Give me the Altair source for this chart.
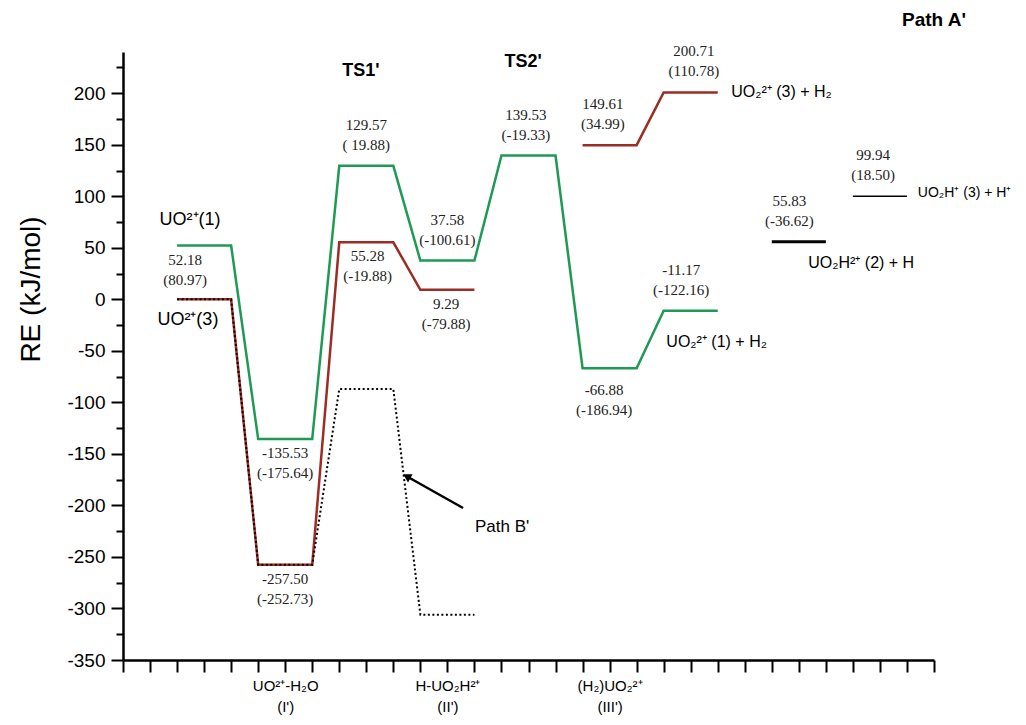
import altair as alt
import pandas as pd

# ---------------- data ----------------
LEVEL_W = 2  # width of every energy level in x-slot units

green_slot = [2, 5, 8, 11, 14, 17, 20]
green_re = [52.18, -135.53, 129.57, 37.58, 139.53, -66.88, -11.17]
green_par = ["(80.97)", "(-175.64)", "( 19.88)", "(-100.61)", "(-19.33)", "(-186.94)", "(-122.16)"]
green_side = ["below", "below", "above", "above", "above", "below2", "above"]
green_shift = [-0.7, 0, 0, 0, -0.1, -0.2, -0.35]

red1_slot = [2, 5, 8, 11]
red1_re = [0.0, -257.50, 55.28, 9.29]
red1_par = [None, "(-252.73)", "(-19.88)", "(-79.88)"]
red1_side = [None, "below", "below", "below"]
red1_shift = [0, 0, 0.05, -0.05]

red2_slot = [17, 20]
red2_re = [149.61, 200.71]
red2_par = ["(34.99)", "(110.78)"]
red2_side = ["above", "above"]
red2_shift = [-0.25, 0.12]

pathb_slot = [2, 5, 8, 11]
pathb_re = [0.0, -257.50, -87.0, -306.0]

black_slot = [24, 27]
black_re = [55.83, 99.94]
black_par = ["(-36.62)", "(18.50)"]
black_side = ["above", "above"]
black_shift = [-0.35, -0.25]

species_text = ["UO²⁺(1)", "UO²⁺(3)", "UO₂²⁺ (3) + H₂", "UO₂²⁺ (1) + H₂",
                "UO₂H²⁺ (2) + H", "UO₂H⁺ (3) + H⁺"]
species_x = [2.48, 2.4, 22.5, 20.1, 25.35, 29.4]
species_y = [77, -20, 201, -41, 35, 103]
species_align = ["center", "center", "left", "left", "left", "last"]

ts_text = ["TS1'", "TS2'"]
ts_x = [8.8, 14.8]
ts_y = [222, 230]
patha_text = "Path A'"
patha_x = 30.0
patha_y = 271

pathb_label = "Path B'"
pathb_label_x = 13.02
pathb_label_y = -221
arrow_x = [12.58, 10.54]
arrow_y = [-202.5, -172.4]

xlab_pos = [6, 12, 18]
xlab_top = ["UO²⁺-H₂O", "H-UO₂H²⁺", "(H₂)UO₂²⁺"]
xlab_bot = ["(I')", "(II')", "(III')"]

y_major = list(range(-350, 201, 50))
y_minor = list(range(-325, 226, 50))

# ---------------- build tables ----------------
def path_rows(slots, vals):
    rows = []
    for i, (s, v) in enumerate(zip(slots, vals)):
        rows.append({"x": s, "y": v, "o": 2 * i})
        rows.append({"x": s + LEVEL_W, "y": v, "o": 2 * i + 1})
    return pd.DataFrame(rows)

def label_rows(slots, vals, pars, sides, shifts):
    rows = []
    for s, v, p, sd, sh in zip(slots, vals, pars, sides, shifts):
        if p is None:
            continue
        rows.append({"x": s + LEVEL_W / 2 + sh, "y": v, "t": [f"{v:.2f}", p], "side": sd})
    return rows

green_df = path_rows(green_slot, green_re)
red1_df = path_rows(red1_slot, red1_re)
red2_df = path_rows(red2_slot, red2_re)
pathb_df = path_rows(pathb_slot, pathb_re)
black_df = pd.DataFrame({"x": black_slot, "x2": [s + LEVEL_W for s in black_slot], "y": black_re})

labels_df = pd.DataFrame(
    label_rows(green_slot, green_re, green_par, green_side, green_shift)
    + label_rows(red1_slot, red1_re, red1_par, red1_side, red1_shift)
    + label_rows(red2_slot, red2_re, red2_par, red2_side, red2_shift)
    + label_rows(black_slot, black_re, black_par, black_side, black_shift)
)
species_df = pd.DataFrame({"x": species_x, "y": species_y, "t": species_text, "a": species_align})
ts_df = pd.DataFrame({"x": ts_x, "y": ts_y, "t": ts_text})
patha_df = pd.DataFrame({"x": [patha_x], "y": [patha_y], "t": [patha_text]})
pathb_lab_df = pd.DataFrame({"x": [pathb_label_x], "y": [pathb_label_y], "t": [pathb_label]})
arrow_df = pd.DataFrame({"x": arrow_x, "y": arrow_y, "o": [0, 1]})
arrow_head_df = arrow_df.iloc[[1]]

# ---------------- scales & axes ----------------
def js(s):
    return '"' + s.replace('"', '\\"') + '"'

label_expr = ""
for p, a, b in zip(xlab_pos, xlab_top, xlab_bot):
    label_expr += f"datum.value == {p} ? [{js(a)}, {js(b)}] : "
label_expr += "''"

FONT = "Liberation Sans"
SERIF = "Liberation Serif"

xscale = alt.Scale(domain=[0, 30], nice=False, zero=False)
yscale = alt.Scale(domain=[-350, 240], nice=False, zero=False)

x_axis = alt.Axis(values=list(range(0, 31)), tickSize=12, tickWidth=2, tickColor="black",
                  domainWidth=2.5, domainColor="black", grid=False, labelExpr=label_expr,
                  labelFont=FONT, labelFontSize=15, labelColor="black", labelPadding=6,
                  labelLineHeight=21, labelOverlap=False, labelBaseline="top",
                  labelFlush=False, title=None)
y_axis = alt.Axis(values=y_major, tickSize=12, tickWidth=2, tickColor="black",
                  domainWidth=2.5, domainColor="black", grid=False,
                  labelExpr="'' + datum.value",
                  labelFont=FONT, labelFontSize=19, labelColor="black", labelPadding=6,
                  labelFlush=False, labelOverlap=False,
                  title="RE (kJ/mol)", titleFont=FONT, titleFontSize=28,
                  titleFontWeight="normal", titleColor="black",
                  titleX=-92, titleY=237, titleAlign="center", titleBaseline="middle",
                  titleAngle=270, orient="left")
y_minor_axis = alt.Axis(values=y_minor, tickSize=7, tickWidth=2, tickColor="black",
                        domain=False, grid=False, labels=False, title=None, orient="left")

X = lambda f="x": alt.X(f"{f}:Q", scale=xscale, axis=x_axis)
Y = lambda: alt.Y("y:Q", scale=yscale, axis=y_axis)

GREEN = "#1f9a55"
RED = "#9b2d24"

red1 = alt.Chart(red1_df).mark_line(color=RED, strokeWidth=2.5).encode(x=X(), y=Y(), order="o:Q")
red2 = alt.Chart(red2_df).mark_line(color=RED, strokeWidth=2.5).encode(x=X(), y=Y(), order="o:Q")
pathb = alt.Chart(pathb_df).mark_line(color="black", strokeWidth=2, strokeDash=[2, 2.5]).encode(
    x=X(), y=Y(), order="o:Q")
green = alt.Chart(green_df).mark_line(color=GREEN, strokeWidth=2.5).encode(x=X(), y=Y(), order="o:Q")

black_thick = alt.Chart(black_df.iloc[[0]]).mark_rule(color="black", strokeWidth=3).encode(
    x=X(), x2="x2:Q", y=Y())
black_thin = alt.Chart(black_df.iloc[[1]]).mark_rule(color="black", strokeWidth=1.5).encode(
    x=X(), x2="x2:Q", y=Y())

def num_labels(side, dy):
    return alt.Chart(labels_df[labels_df.side == side]).mark_text(
        font=SERIF, fontSize=15, color="#222", lineHeight=20, baseline="middle",
        align="center", dy=dy
    ).encode(x=X(), y=Y(), text="t")

lab_above = num_labels("above", -41)
lab_below = num_labels("below", 14)
lab_below2 = num_labels("below2", 22)

sp_center = alt.Chart(species_df[species_df.a == "center"]).mark_text(
    font=FONT, fontSize=18, color="black", align="center", baseline="middle"
).encode(x=X(), y=Y(), text="t:N")
sp_left = alt.Chart(species_df[species_df.a == "left"]).mark_text(
    font=FONT, fontSize=16, color="black", align="left", baseline="middle"
).encode(x=X(), y=Y(), text="t:N")
sp_last = alt.Chart(species_df[species_df.a == "last"]).mark_text(
    font=FONT, fontSize=14, color="black", align="left", baseline="middle"
).encode(x=X(), y=Y(), text="t:N")
ts = alt.Chart(ts_df).mark_text(
    font=FONT, fontSize=18, fontWeight="bold", color="black", align="center", baseline="middle"
).encode(x=X(), y=Y(), text="t:N")
pa = alt.Chart(patha_df).mark_text(
    font=FONT, fontSize=19, fontWeight="bold", color="black", align="center", baseline="middle"
).encode(x=X(), y=Y(), text="t:N")
pb = alt.Chart(pathb_lab_df).mark_text(
    font=FONT, fontSize=17, color="black", align="left", baseline="middle"
).encode(x=X(), y=Y(), text="t:N")

arrow_line = alt.Chart(arrow_df).mark_line(color="black", strokeWidth=2.5).encode(
    x=X(), y=Y(), order="o:Q")
arrow_head = alt.Chart(arrow_head_df).mark_point(
    shape="triangle", filled=True, color="black", opacity=1, size=90, angle=299
).encode(x=X(), y=Y())

main = alt.layer(red1, red2, pathb, green, black_thick, black_thin, lab_above, lab_below,
                 lab_below2, sp_center, sp_left, sp_last, ts, pa, pb, arrow_line, arrow_head)

minor = alt.Chart(pd.DataFrame({"x": [0], "y": [0]})).mark_point(opacity=0).encode(
    x=X(), y=alt.Y("y:Q", scale=yscale, axis=y_minor_axis))

chart = alt.layer(main, minor).resolve_axis(y="independent").resolve_scale(y="shared").properties(
    width=811, height=608,
    padding={"left": 115, "top": 44, "right": 84, "bottom": 57},
    autosize=alt.AutoSizeParams(type="none"),
    background="white",
).configure_view(stroke=None)

chart.save("out.html", embed_options={"renderer": "svg", "actions": False})
